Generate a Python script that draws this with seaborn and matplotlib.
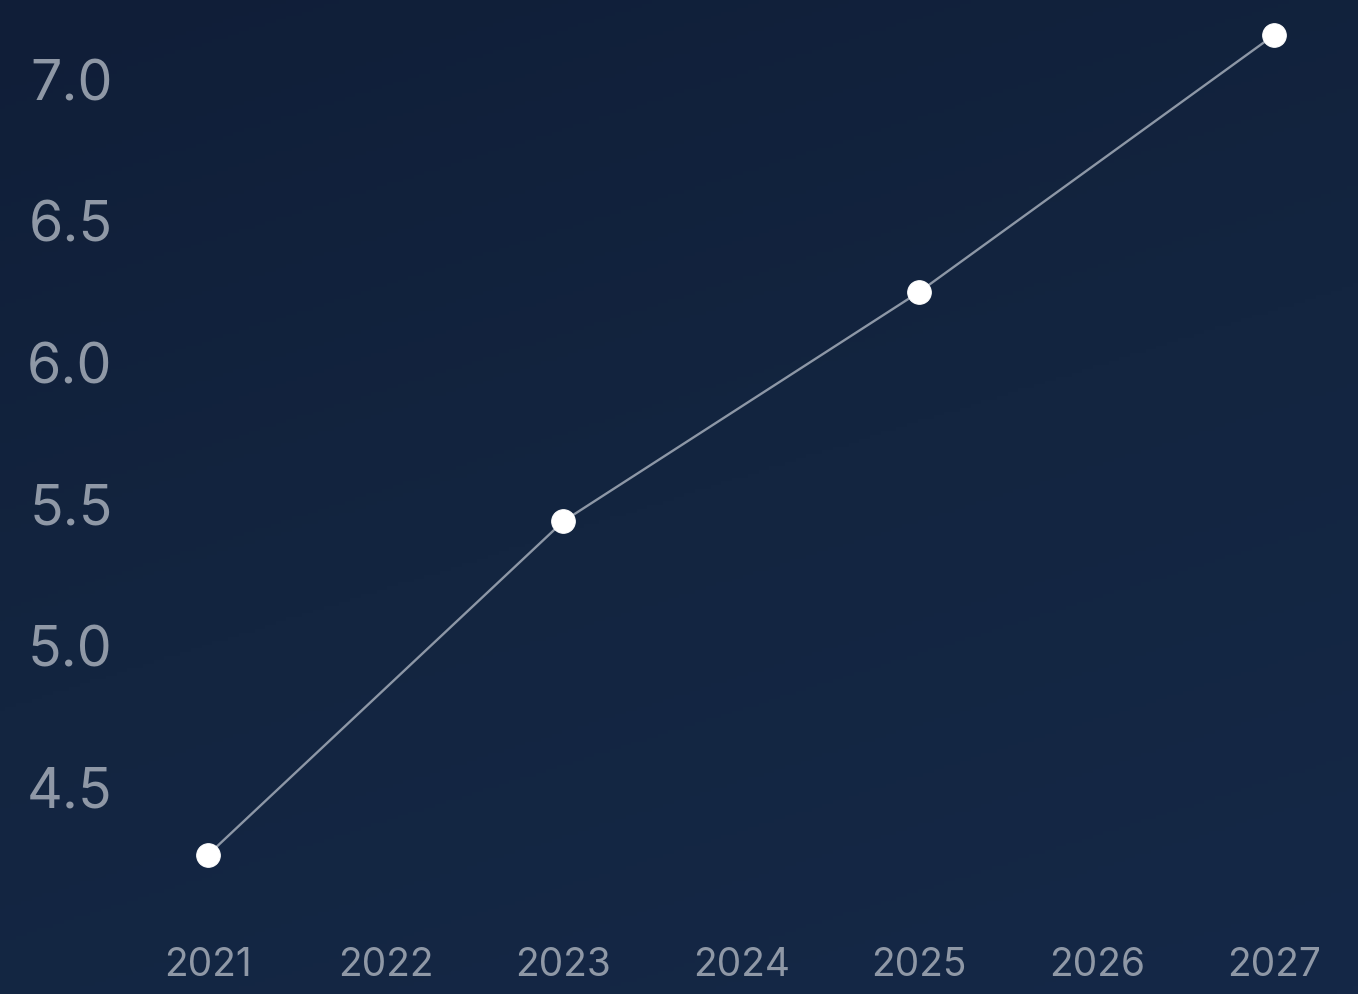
import numpy as np
import pandas as pd
import matplotlib
matplotlib.use("Agg")
import matplotlib.pyplot as plt
import seaborn as sns
from matplotlib.colors import LinearSegmentedColormap

# data
years = [2021, 2023, 2025, 2027]
values = [4.26, 5.44, 6.25, 7.16]
xticks = [2021, 2022, 2023, 2024, 2025, 2026, 2027]
yticks = [4.5, 5.0, 5.5, 6.0, 6.5, 7.0]

df = pd.DataFrame({"year": years, "value": values})

sns.set_style("dark")
plt.rcParams['font.family'] = ['Inter', 'DejaVu Sans']

fig = plt.figure(figsize=(13.58, 9.94), dpi=100)
ax = fig.add_axes([0, 0, 1, 1])

# background gradient, navy
cmap = LinearSegmentedColormap.from_list("bg", ["#101e38", "#132540", "#152847"])
grad = np.linspace(0, 1, 256).reshape(-1, 1) * 0.7 + np.linspace(0, 1, 256).reshape(1, -1) * 0.3
ax.imshow(grad, cmap=cmap, aspect='auto', extent=[0, 1, 0, 1],
          transform=ax.transAxes, zorder=0, origin='upper')

sns.lineplot(data=df, x="year", y="value", ax=ax, color="#8d97a6", linewidth=1.7,
             marker="o", markersize=17, markerfacecolor="white",
             markeredgecolor="white", zorder=3)

ax.set_xlim(2019.83, 2027.47)
ax.set_ylim(3.768, 7.283)
ax.set_xticks(xticks)
ax.set_xticklabels([str(t) for t in xticks])
ax.set_yticks(yticks)
ax.set_yticklabels([f"{t:.1f}" for t in yticks])
ax.tick_params(axis='y', length=0, pad=-81, labelsize=40, labelcolor="#8f98a6")
ax.tick_params(axis='x', length=0, pad=-34, labelsize=28, labelcolor="#8f98a6")
ax.set_xlabel("")
ax.set_ylabel("")
ax.grid(False)
for s in ax.spines.values():
    s.set_visible(False)

fig.savefig("out.png", dpi=100)
